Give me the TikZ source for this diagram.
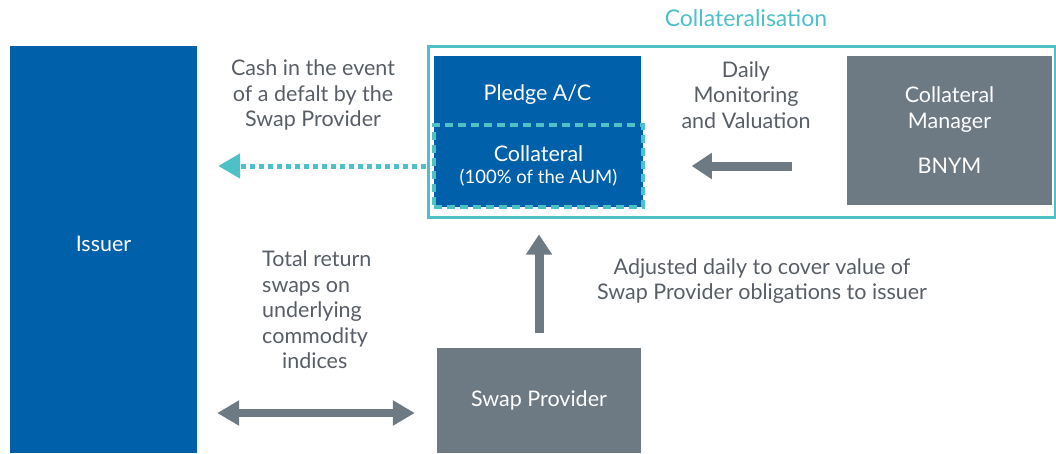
\documentclass[tikz,border=0pt]{standalone}
\usepackage{fontspec}
\setmainfont{Lato}
\usetikzlibrary{arrows.meta,positioning}

\definecolor{IssuerBlue}{RGB}{0,96,170}
\definecolor{BoxGray}{RGB}{110,122,131}
\definecolor{LineTeal}{RGB}{78,193,198}
\definecolor{TextGray}{RGB}{88,94,102}

\begin{document}
\begin{tikzpicture}[x=1pt,y=-1pt,
  font=\fontsize{21.5}{25.5}\selectfont,
  bluebox/.style={fill=IssuerBlue,draw=none,text=white,inner sep=0pt},
  graybox/.style={fill=BoxGray,draw=none,text=white,inner sep=0pt,align=center},
  note/.style={text=TextGray,align=center,inner sep=0pt},
  fatarrow/.style={draw=BoxGray,line width=9pt},
  fathead/.tip={Triangle[length=20pt,width=25pt]},
  widehead/.tip={Triangle[length=22pt,width=24pt]}]
\useasboundingbox (0,0) rectangle (1056,453);

% boxes
\node[bluebox,minimum width=187,minimum height=407,
  label={[text=white,anchor=center,yshift=6pt]center:Issuer}] (Issuer) at (103.5,249.5) {};
\node[text=LineTeal,inner sep=0pt,font=\fontsize{23}{26}\selectfont] (CollatTitle) at (746,18) {Collateralisation};
\node[draw=LineTeal,line width=3pt,minimum width=627,minimum height=171,inner sep=0pt] (CollatBox) at (741.5,131.5) {};
\node[bluebox,minimum width=207,minimum height=151,
  label={[text=white,anchor=center,yshift=-39pt]north:Pledge A/C}] (PledgeAC) at (537.5,131.5) {};
\node[bluebox,draw=LineTeal,line width=3.5pt,dash pattern=on 8pt off 5pt,
  minimum width=209,minimum height=82,align=center] (Collateral) at (538.5,166)
  {Collateral\\[-4pt]{\fontsize{18.5}{22}\selectfont(100\% of the AUM)}};
\node[graybox,minimum width=205,minimum height=149] (CollatManager) at (949.5,130.5)
  {Collateral\\Manager\\[20pt]BNYM};
\node[graybox,minimum width=204,minimum height=105] (SwapProvider) at (539,400.5) {Swap Provider};

% texts
\node[note] (CashText) at (313,95) {Cash in the event\\of a defalt by the\\Swap Provider};
\node[note] (DailyText) at (746,95) {Daily\\Monitoring\\and Valuation};
\node[note,align=left,anchor=west] (TrsText) at (262,310)
  {Total return\\swaps on\\underlying\\commodity\\\hspace*{20pt}indices};
\node[note] (AdjText) at (762,281)
  {Adjusted daily to cover value of\\Swap Provider obligations to issuer};

% connectors
\draw[draw=LineTeal,line width=5pt,dash pattern=on 5pt off 4pt,
  -widehead,shorten <=6pt,shorten >=21pt]
  (Collateral.west) -- (Issuer.east |- Collateral.west);
\draw[fatarrow,-fathead,shorten <=55pt,shorten >=47pt]
  (CollatManager.west |- Collateral.east) -- (Collateral.east);
\draw[fatarrow,-fathead,shorten <=15pt,shorten >=16pt]
  (SwapProvider.north) -- (SwapProvider.north |- CollatBox.south);
\draw[fatarrow,line width=8pt,widehead-widehead,shorten <=20pt,shorten >=22pt]
  (Issuer.east |- 0,413) -- (SwapProvider.west |- 0,413);
\end{tikzpicture}
\end{document}
